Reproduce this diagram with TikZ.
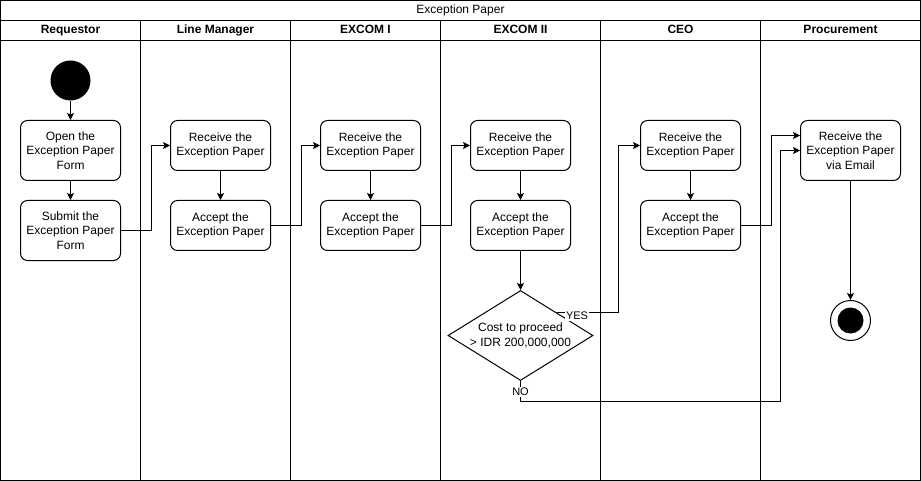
\documentclass[tikz,border=0pt]{standalone}
\usepackage{fontspec}
\setmainfont{Liberation Sans}
\usetikzlibrary{arrows.meta,shapes.geometric}
\begin{document}
\begin{tikzpicture}[x=1pt,y=-1pt,line width=1pt,
  font=\fontsize{12}{14.5}\selectfont,
  act/.style={draw, rounded corners=7pt, minimum width=100pt, align=center, inner sep=0pt},
  arr/.style={-{Stealth[length=7pt,width=7pt,inset=1.5pt]}},
  lane/.style={font=\fontsize{12}{14}\selectfont\bfseries, text height=9pt, text depth=2.5pt, inner sep=0pt},
  lbl/.style={fill=white, inner sep=1pt, font=\fontsize{11}{13}\selectfont}]
\useasboundingbox (0,0) rectangle (921,481);
% pool frame
\draw (0.5,0.5) rectangle (920.5,480.5);
\draw (0.5,20.5) -- (920.5,20.5);
\draw (0.5,40.5) -- (920.5,40.5);
\foreach \x in {140.5,290.5,440.5,600.5,760.5} \draw (\x,20.5) -- (\x,480.5);
\node[text height=9pt, text depth=2.5pt, inner sep=0pt] (title) at (460.5,10.5) {Exception Paper};
\node[lane] (h1) at (70.5,30.5) {Requestor};
\node[lane] (h2) at (215.5,30.5) {Line Manager};
\node[lane] (h3) at (365.5,30.5) {EXCOM I};
\node[lane] (h4) at (520.5,30.5) {EXCOM II};
\node[lane] (h5) at (680.5,30.5) {CEO};
\node[lane] (h6) at (840.5,30.5) {Procurement};
% nodes
\node[circle, fill, minimum size=40pt, inner sep=0pt] (start) at (70.5,80.5) {};
\node[act, minimum height=60pt] (open) at (70.5,150.5) {Open the\\Exception Paper\\Form};
\node[act, minimum height=60pt] (submit) at (70.5,230.5) {Submit the\\Exception Paper\\Form};
\node[act, minimum height=50pt] (lmR) at (220.5,145.5) {Receive the\\Exception Paper};
\node[act, minimum height=50pt] (lmA) at (220.5,225.5) {Accept the\\Exception Paper};
\node[act, minimum height=50pt] (e1R) at (370.5,145.5) {Receive the\\Exception Paper};
\node[act, minimum height=50pt] (e1A) at (370.5,225.5) {Accept the\\Exception Paper};
\node[act, minimum height=50pt] (e2R) at (520.5,145.5) {Receive the\\Exception Paper};
\node[act, minimum height=50pt] (e2A) at (520.5,225.5) {Accept the\\Exception Paper};
\node[diamond, draw, minimum width=145pt, minimum height=90pt, inner sep=0pt] (dec) at (520.5,335.5) {};
\node[align=center, inner sep=0pt] (dect) at (520.5,335.5) {Cost to proceed\\> IDR 200,000,000};
\node[act, minimum height=50pt] (cR) at (690.5,145.5) {Receive the\\Exception Paper};
\node[act, minimum height=50pt] (cA) at (690.5,225.5) {Accept the\\Exception Paper};
\node[act, minimum height=60pt] (pR) at (850.5,150.5) {Receive the\\Exception Paper\\via Email};
\node[circle, draw, minimum size=40pt, inner sep=0pt] (end) at (850.5,320.5) {};
\node[circle, fill, minimum size=26pt, inner sep=0pt] (endin) at (end.center) {};
% edges
\draw[arr] (start) -- (open);
\draw[arr] (open) -- (submit);
\draw[arr] (submit.east) -- ++(30,0) |- (lmR.west);
\draw[arr] (lmR) -- (lmA);
\draw[arr] (lmA.east) -- ++(30,0) |- (e1R.west);
\draw[arr] (e1R) -- (e1A);
\draw[arr] (e1A.east) -- ++(30,0) |- (e2R.west);
\draw[arr] (e2R) -- (e2A);
\draw[arr] (e2A) -- (dec.north);
\draw[arr] (dec.north east) -- ++(61,0) |- (cR.west);
\draw[arr] (cR) -- (cA);
\draw[arr] (cA.east) -- ++(30,0) |- ([yshift=15pt]pR.west);
\draw[arr] (dec.south) -- ++(0,20) -- ++(260,0) |- (pR.west);
\draw[arr] (pR) -- (end);
\node[lbl] (yes) at (577,316) {YES};
\node[lbl] (no) at (520.5,392) {NO};
\end{tikzpicture}
\end{document}
